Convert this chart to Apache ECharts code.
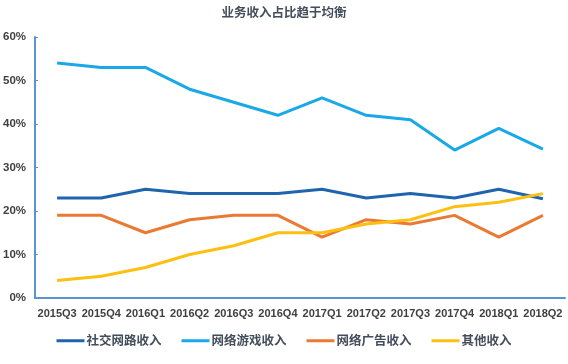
<!DOCTYPE html>
<html><head><meta charset="utf-8">
<script src="https://cdn.jsdelivr.net/npm/echarts@6/dist/echarts.min.js"></script>
<style>html,body{margin:0;padding:0;background:#fff}#c{width:568px;height:364px}</style>
</head><body><div id="c"></div>
<script>
const categories = ['2015Q3','2015Q4','2016Q1','2016Q2','2016Q3','2016Q4','2017Q1','2017Q2','2017Q3','2017Q4','2018Q1','2018Q2'];
const social = [23,23,25,24,24,24,25,23,24,23,25,22.8];
const games = [54,53,53,48,45,42,46,42,41,34,39,34.2];
const ads = [19,19,15,18,19,19,14,18,17,19,14,19];
const other = [4,5,7,10,12,15,15,17,18,21,22,24];
const yTicks = [0,10,20,30,40,50,60];
const names = ['社交网路收入','网络游戏收入','网络广告收入','其他收入'];
const colors = ['#1f65ad','#1aa9e6','#ea7a33','#fdbf12'];
const font = '"Noto Sans CJK SC", "Microsoft YaHei", sans-serif';
const chart = echarts.init(document.getElementById('c'));
const mk = (n, d, i) => ({name:n, type:'line', data:d, symbol:'none', lineStyle:{width:3, color:colors[i]}, itemStyle:{color:colors[i]}});
chart.setOption({
  animation:false,
  title:{text:'业务收入占比趋于均衡', left:'center', top:1, textStyle:{fontFamily:font, fontSize:12.5, fontWeight:'bold', color:'#434d5c'}},
  grid:{left:35, right:3, top:37, bottom:66},
  xAxis:{type:'category', data:categories, boundaryGap:true,
    axisLine:{lineStyle:{color:'#5b95cf', width:2}},
    axisTick:{inside:true, length:3, lineStyle:{color:'#5b95cf'}},
    axisLabel:{fontFamily:'"Liberation Sans", Arial, sans-serif', fontSize:11, color:'#404040', fontWeight:'bold', margin:10, interval:0}},
  yAxis:{type:'value', min:yTicks[0], max:yTicks[yTicks.length-1], interval:10,
    axisLine:{show:true, lineStyle:{color:'#5b95cf', width:2}},
    axisTick:{show:true, inside:true, length:3, lineStyle:{color:'#5b95cf'}},
    splitLine:{show:false},
    axisLabel:{formatter:v=>v+'%', fontFamily:'"Liberation Sans", Arial, sans-serif', fontSize:11.5, color:'#404040', fontWeight:'bold', margin:9}},
  legend:{bottom:12, left:'center', itemWidth:28, itemHeight:3, itemGap:20, icon:'rect',
    data:names, textStyle:{fontFamily:font, fontSize:12.5, fontWeight:'bold', color:'#434d5c', padding:[0,0,0,-3]}},
  series:[mk(names[0],social,0), mk(names[1],games,1), mk(names[2],ads,2), mk(names[3],other,3)]
});
</script></body></html>
